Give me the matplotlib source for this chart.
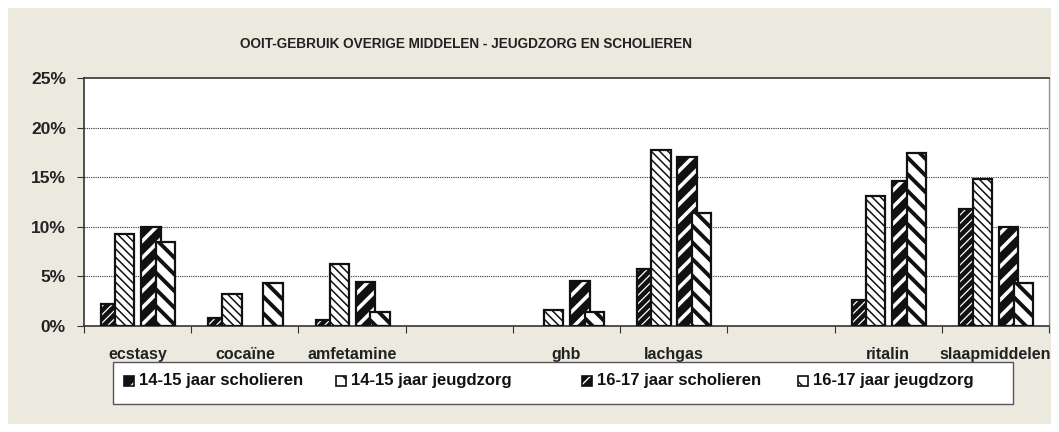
import matplotlib
matplotlib.use("Agg")
import matplotlib.pyplot as plt
import matplotlib.patches as mpatches
import numpy as np

# data (percent ooit-gebruik)
categories = ['ecstasy', 'cocaïne', 'amfetamine', '', 'ghb', 'lachgas', '', 'ritalin', 'slaapmiddelen']
s1415 = [2.2, 0.8, 0.6, 0, 0, 5.7, 0, 2.6, 11.8]
j1415 = [9.3, 3.2, 6.3, 0, 1.6, 17.7, 0, 13.1, 14.8]
s1617 = [10.0, 0, 4.4, 0, 4.5, 17.0, 0, 14.6, 10.0]
j1617 = [8.5, 4.3, 1.4, 0, 1.4, 11.4, 0, 17.4, 4.3]
series_labels = ['14-15 jaar scholieren', '14-15 jaar jeugdzorg',
                 '16-17 jaar scholieren', '16-17 jaar jeugdzorg']
yticks = [0, 5, 10, 15, 20, 25]

plt.rcParams['font.family'] = ['Liberation Sans', 'DejaVu Sans']
plt.rcParams['font.weight'] = 'bold'

W, H = 1059, 432
BG = '#ece9df'

# face, hatch colour, hatch, hatch linewidth
styles = [
    ('#111111', 'white', '////', 0.9),
    ('white', '#111111', '\\\\\\\\', 1.1),
    ('#111111', 'white', '//', 2.6),
    ('white', '#111111', '\\\\', 2.8),
]
offsets = [-0.25, -0.12, 0.125, 0.262]
width = 0.18


def fx(x):
    return x / W


def fy(y):
    return 1 - y / H


def hatched_bar(ax, x, h, style, z):
    fc, hc, hatch, hlw = style
    with plt.rc_context({'hatch.linewidth': hlw}):
        b = ax.bar(x, h, width=width, color=fc, edgecolor=hc, hatch=hatch,
                   linewidth=0, zorder=z)
        for p in b:
            if hasattr(p, 'set_hatch_linewidth'):
                p.set_hatch_linewidth(hlw)
    ax.bar(x, h, width=width, facecolor='none', edgecolor='#111111',
           linewidth=1.6, zorder=z + 0.5)


fig = plt.figure(figsize=(W / 100, H / 100), dpi=100)
fig.patch.set_facecolor('white')
fig.patches.append(mpatches.Rectangle((fx(8), fy(424)), fx(1043), 416 / H,
                                      transform=fig.transFigure, facecolor=BG,
                                      edgecolor='none', zorder=-10))

ax = fig.add_axes([fx(84), fy(326), fx(1049 - 84), (326 - 78) / H])
ax.set_facecolor('white')

xc = np.arange(len(categories)) + 0.5
series = [s1415, j1415, s1617, j1617]
z = 3
for i in range(len(categories)):
    for k, vals in enumerate(series):
        if vals[i] > 0:
            hatched_bar(ax, xc[i] + offsets[k], vals[i], styles[k], z)
        z += 1

ax.set_xlim(0, len(categories))
ax.set_ylim(0, 25)
ax.set_yticks(yticks)
ax.set_yticklabels([f'{v}%' for v in yticks], fontsize=12.5, fontweight='bold',
                   color='#222222')
ax.set_xticks(np.arange(len(categories) + 1))
ax.set_xticklabels([])
ax.set_xticks(xc, minor=True)
ax.set_xticklabels(categories, minor=True, fontsize=11.5, fontweight='bold',
                   color='#222222')
ax.tick_params(axis='x', which='minor', length=0, pad=15)
ax.tick_params(axis='x', which='major', length=5, direction='out', color='#333333')
ax.tick_params(axis='y', length=5, direction='out', color='#333333', pad=8)
for yv in yticks[1:-1]:
    ax.axhline(yv, color='#333333', lw=0.8, ls=(0, (1, 1)), zorder=1)
for s in ['left', 'bottom', 'top']:
    ax.spines[s].set_color('#333333')
    ax.spines[s].set_linewidth(1.2)
ax.spines['right'].set_color('#999999')
ax.spines['right'].set_linewidth(1.0)

fig.text(fx(466), fy(44), 'OOIT-GEBRUIK OVERIGE MIDDELEN - JEUGDZORG EN SCHOLIEREN',
         ha='center', va='center', fontsize=9.8, fontweight='bold', color='#222222')

# legend box
fig.patches.append(mpatches.Rectangle((fx(113), fy(404)), fx(900), 42 / H,
                                      transform=fig.transFigure, facecolor='white',
                                      edgecolor='#555555', linewidth=1.0, zorder=5))
marker_x = [124, 336, 582, 798]
for k, lab in enumerate(series_labels):
    fc, hc, hatch, hlw = styles[k]
    with plt.rc_context({'hatch.linewidth': 1.0}):
        m = mpatches.Rectangle((fx(marker_x[k]), fy(386)), fx(10), 10 / H,
                               transform=fig.transFigure, facecolor=fc,
                               edgecolor=hc, hatch=hatch.replace('////', '//').replace('\\\\\\\\', '\\\\'),
                               linewidth=0, zorder=6)
    fig.patches.append(m)
    fig.patches.append(mpatches.Rectangle((fx(marker_x[k]), fy(386)), fx(10), 10 / H,
                                          transform=fig.transFigure, facecolor='none',
                                          edgecolor='#111111', linewidth=1.2, zorder=7))
    fig.text(fx(marker_x[k] + 15), fy(381), lab, ha='left', va='center',
             fontsize=12, fontweight='bold', color='#111111', zorder=8)

fig.savefig('out.png', dpi=100, facecolor=fig.get_facecolor())
